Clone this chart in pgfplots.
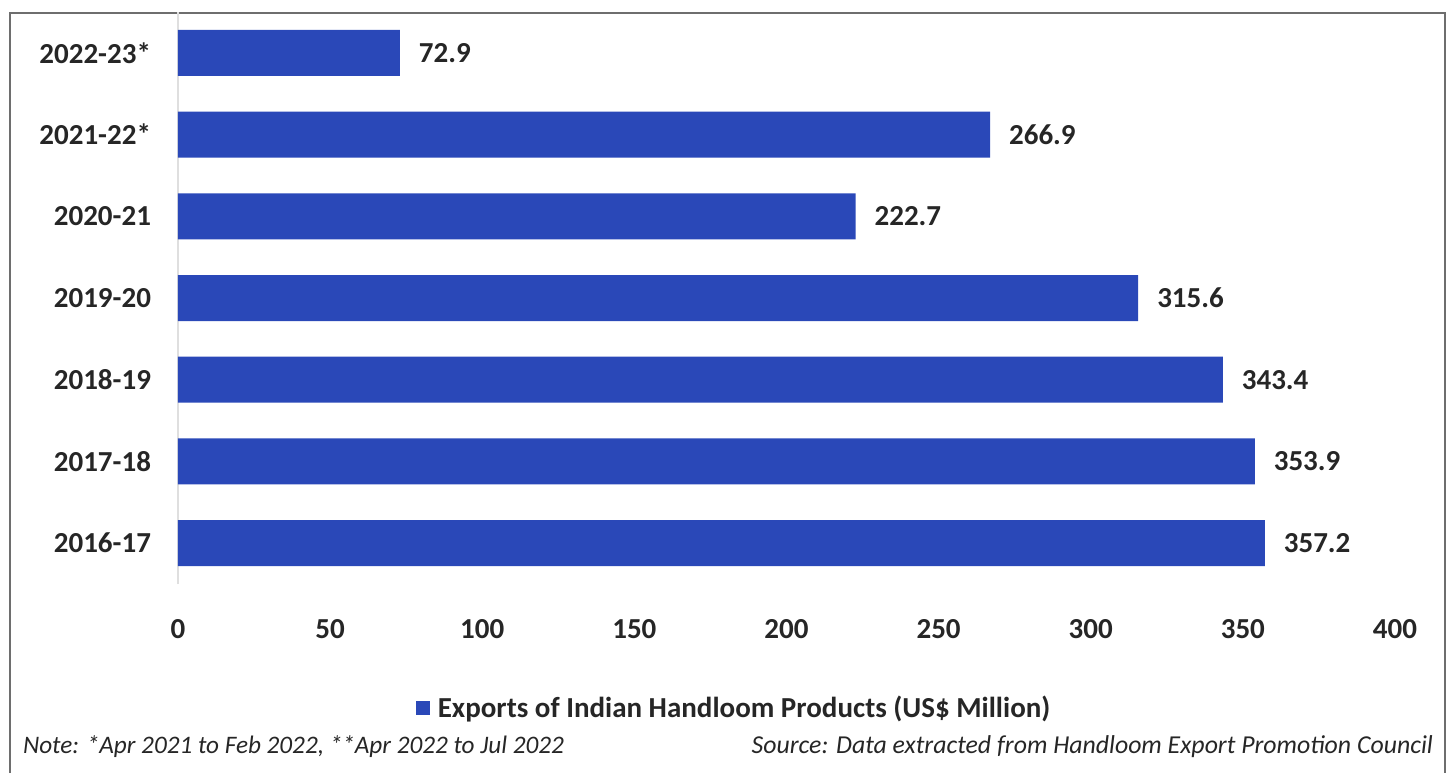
\documentclass[border=0pt]{standalone}
\usepackage{fontspec}
\setmainfont{Carlito}
\usepackage{pgfplots}
\usepackage{pgfplotstable}
\pgfplotsset{compat=1.18}
\definecolor{barblue}{RGB}{42,72,184}
\definecolor{framegray}{RGB}{110,110,110}
\definecolor{txt}{RGB}{38,38,38}
\pgfplotstableread{
y val label
0 357.2 357.2
1 353.9 353.9
2 343.4 343.4
3 315.6 315.6
4 222.7 222.7
5 266.9 266.9
6 72.9 72.9
}\datatable
\begin{document}
\begin{tikzpicture}
\path[use as bounding box] (0,0) rectangle (724.5pt,386.5pt);
\draw[framegray, line width=1pt] (5pt,0) -- (5pt,380pt) -- (722.5pt,380pt) -- (722.5pt,0);
\begin{axis}[
  at={(89pt,94.5pt)}, anchor=south west,
  scale only axis, width=608.5pt, height=286pt,
  xmin=0, xmax=400, ymin=-0.5, ymax=6.5,
  xtick={0,50,...,400},
  ytick={0,...,6},
  yticklabels={2016-17,2017-18,2018-19,2019-20,2020-21,2021-22*,2022-23*},
  axis lines*=left,
  x axis line style={draw=none},
  y axis line style={draw=gray!25, line width=0.6pt},
  major tick length=0pt,
  tick style={draw=none},
  /pgf/number format/assume math mode=true,
  ticklabel style={font=\bfseries\fontsize{14.5}{16}\selectfont, text=txt},
  xticklabel style={yshift=-14pt},
  yticklabel style={xshift=-10pt},
  legend style={at={(0.4577,-0.217)}, anchor=center, draw=none, fill=none,
    font=\bfseries\fontsize{14.5}{16}\selectfont, text=txt, legend cell align=left,
    /tikz/every odd column/.append style={column sep=2pt}},
  legend image code/.code={\fill[barblue] (0pt,-3.5pt) rectangle (7pt,3.5pt);},
]
\addplot[xbar, bar width=23pt, bar shift=0pt, fill=barblue, draw=none,
  point meta=explicit symbolic,
  nodes near coords,
  nodes near coords style={anchor=west, xshift=6pt, font=\bfseries\fontsize{14.5}{16}\selectfont, text=txt}]
  table[x=val, y=y, meta=label] {\datatable};
\addlegendentry{Exports of Indian Handloom Products (US\$ Million)}
\end{axis}
\node[anchor=west, font=\itshape\fontsize{12.6}{15}\selectfont, text=txt] at (8pt,13pt) {Note: *Apr 2021 to Feb 2022, **Apr 2022 to Jul 2022};
\node[anchor=east, font=\itshape\fontsize{12.9}{15}\selectfont, text=txt] at (720pt,13pt) {Source: Data extracted from Handloom Export Promotion Council};
\end{tikzpicture}
\end{document}
